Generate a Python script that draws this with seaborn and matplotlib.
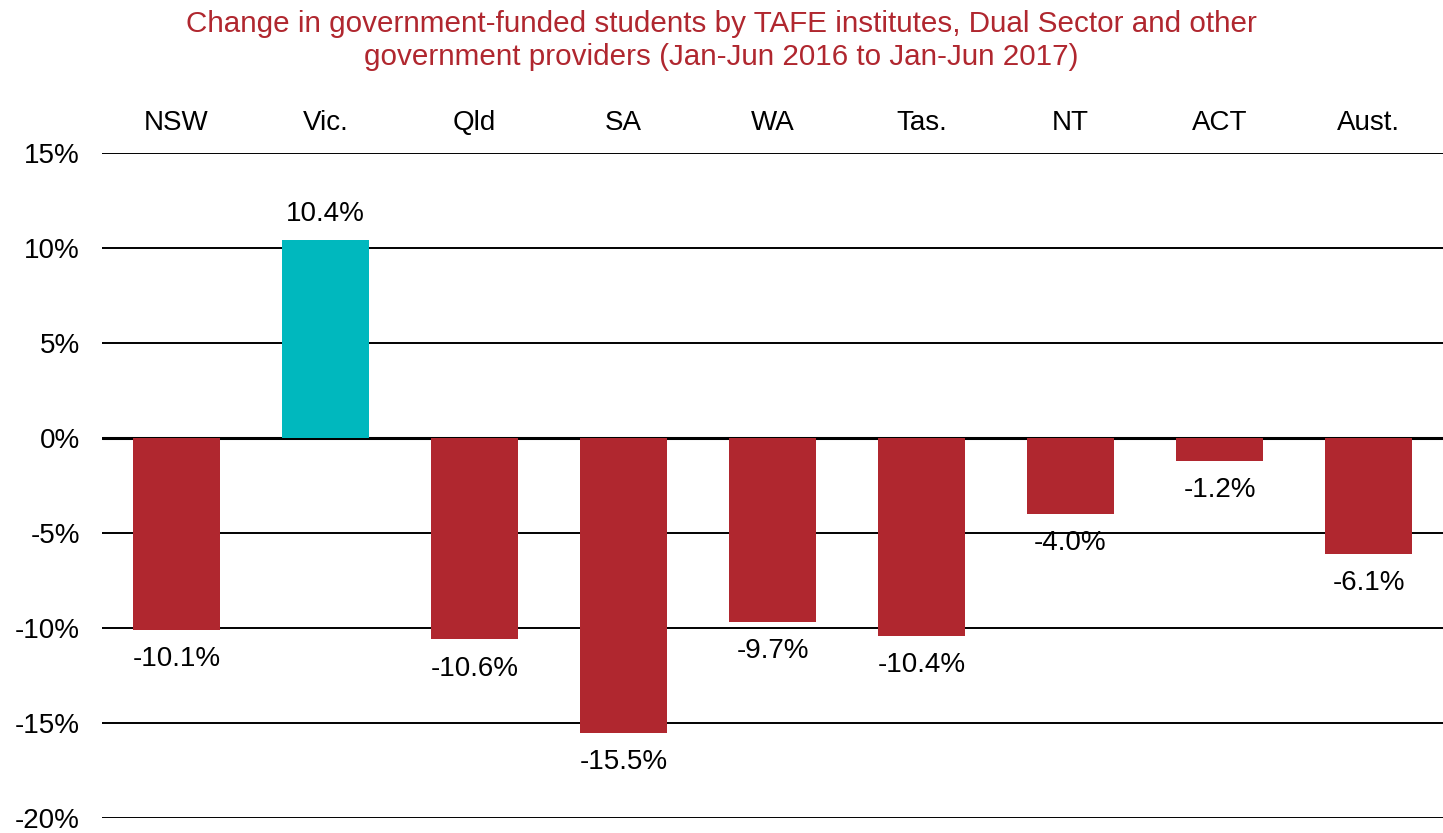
import matplotlib
matplotlib.use("Agg")
import matplotlib.pyplot as plt
import seaborn as sns
import pandas as pd

# Datos
regiones = ["NSW", "Vic.", "Qld", "SA", "WA", "Tas.", "NT", "ACT", "Aust."]
cambio_pct = [-10.1, 10.4, -10.6, -15.5, -9.7, -10.4, -4.0, -1.2, -6.1]
ticks_y = [15, 10, 5, 0, -5, -10, -15, -20]

ROJO = "#B0272F"
TURQUESA = "#00B8BE"


def main():
    sns.set_theme(style="white")
    plt.rcParams["font.family"] = ["Liberation Sans", "DejaVu Sans"]

    df = pd.DataFrame({"region": regiones, "cambio": cambio_pct})
    df["signo"] = ["pos" if v > 0 else "neg" for v in df["cambio"]]

    fig = plt.figure(figsize=(14.43, 8.33), dpi=100)
    ax = fig.add_axes([0.0707, 0.018, 0.9293, 0.7983])

    # Lineas horizontales de referencia
    for t in ticks_y:
        ax.axhline(t, color="black", lw=2.2 if t == 0 else 1.4, zorder=0)

    sns.barplot(data=df, x="region", y="cambio", hue="signo",
                palette={"pos": TURQUESA, "neg": ROJO}, order=regiones,
                width=0.58, dodge=False, legend=False, ax=ax, zorder=2,
                saturation=1, linewidth=0)

    # Etiquetas de valores
    for i, v in enumerate(cambio_pct):
        desplazamiento = 19 if v >= 0 else -21
        ax.annotate(f"{v:.1f}%", (i, v), xytext=(0, desplazamiento),
                    textcoords="offset points", ha="center", va="center",
                    fontsize=20, color="black")

    ax.set_ylim(-20, 15)
    ax.set_xlim(-0.5, len(regiones) - 0.5)
    ax.set_yticks(ticks_y)
    ax.set_yticklabels([f"{t}%" for t in ticks_y], fontsize=20, color="black")
    ax.xaxis.tick_top()
    ax.tick_params(axis="x", length=0, pad=12, labelsize=20, labelcolor="black")
    ax.tick_params(axis="y", length=0, pad=16)
    ax.set_xlabel("")
    ax.set_ylabel("")
    for s in ax.spines.values():
        s.set_visible(False)

    fig.suptitle("Change in government-funded students by TAFE institutes, Dual Sector and other\n"
                 "government providers (Jan-Jun 2016 to Jan-Jun 2017)",
                 color=ROJO, fontsize=21.3, y=0.988, va="top", x=0.5,
                 linespacing=1.25)

    fig.savefig("out.png", dpi=100)


if __name__ == "__main__":
    main()
